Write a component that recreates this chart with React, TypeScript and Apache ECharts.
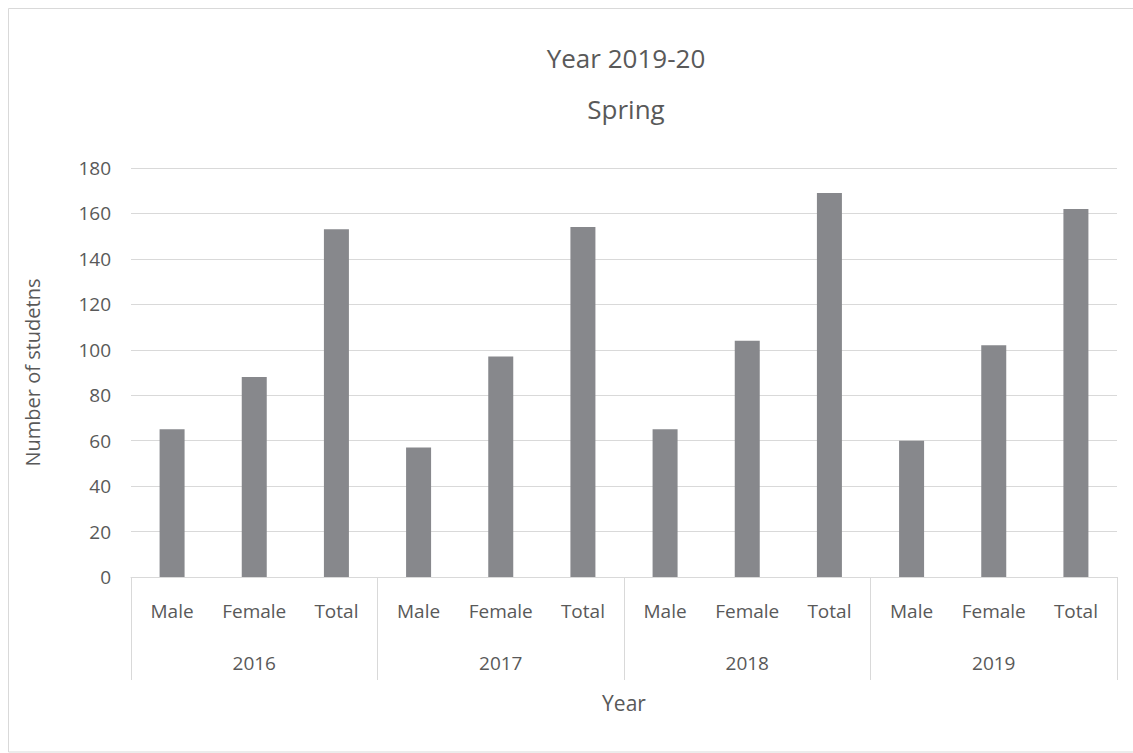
import React, { useEffect, useRef } from "react";
import * as echarts from "echarts";

const years = ["2016", "2017", "2018", "2019"];
const groups = ["Male", "Female", "Total"];
const maleValues = [65, 57, 65, 60];
const femaleValues = [88, 97, 104, 102];
const totalValues = [153, 154, 169, 162];
const yTicks = [0, 20, 40, 60, 80, 100, 120, 140, 160, 180];

const FONT = "'Open Sans', sans-serif";
const TEXT = "#595959";
const LINE = "#d9d9d9";

export default function App() {
  const ref = useRef<HTMLDivElement>(null);
  useEffect(() => {
    if (!ref.current) return;
    const chart = echarts.init(ref.current, null, { renderer: "svg" });
    const cats: string[] = [];
    const vals: number[] = [];
    years.forEach((y, i) => {
      cats.push(groups[0], groups[1], groups[2]);
      vals.push(maleValues[i], femaleValues[i], totalValues[i]);
    });
    chart.setOption({
      animation: false,
      backgroundColor: "#ffffff",
      title: {
        text: "Year 2019-20\nSpring",
        left: 621,
        top: 27,
        textAlign: "center",
        textStyle: { fontFamily: FONT, fontSize: 26, lineHeight: 51, fontWeight: "normal", color: TEXT },
      },
      graphic: [
        {
          type: "rect",
          shape: { x: 8.5, y: 8.5, width: 1140, height: 743.5 },
          style: { fill: "none", stroke: LINE, lineWidth: 1 },
          silent: true,
        },
      ],
      grid: { left: 131, top: 168, width: 986, height: 409 },
      yAxis: {
        type: "value",
        min: yTicks[0],
        max: yTicks[yTicks.length - 1],
        interval: 20,
        name: "Number of studetns",
        nameLocation: "middle",
        nameGap: 89,
        nameTextStyle: { fontFamily: FONT, fontSize: 20, color: TEXT },
        axisLine: { show: false },
        axisTick: { show: false },
        axisLabel: { fontFamily: FONT, fontSize: 19, color: TEXT, margin: 20 },
        splitLine: { lineStyle: { color: LINE, width: 1 } },
      },
      xAxis: [
        {
          type: "category",
          data: cats,
          position: "bottom",
          axisLine: { show: true, lineStyle: { color: LINE, width: 1 } },
          axisTick: { show: false },
          axisLabel: { fontFamily: FONT, fontSize: 19, color: TEXT, margin: 24, interval: 0 },
        },
        {
          type: "category",
          data: years,
          position: "bottom",
          gridIndex: 0,
          axisLine: { show: false },
          axisTick: { show: true, length: 103, interval: 0, lineStyle: { color: LINE, width: 1 } },
          axisLabel: { fontFamily: FONT, fontSize: 19, color: TEXT, margin: 76, interval: 0 },
          name: "Year",
          nameLocation: "middle",
          nameGap: 115,
          nameTextStyle: { fontFamily: FONT, fontSize: 21, color: TEXT },
        },
      ],
      series: [
        {
          type: "bar",
          xAxisIndex: 0,
          data: vals,
          barWidth: 25,
          itemStyle: { color: "#87888c" },
        },
      ],
    });
    return () => chart.dispose();
  }, []);
  return (
    <div
      ref={ref}
      style={{ position: "absolute", left: 0, top: 0, width: 1133, height: 753 }}
    />
  );
}
